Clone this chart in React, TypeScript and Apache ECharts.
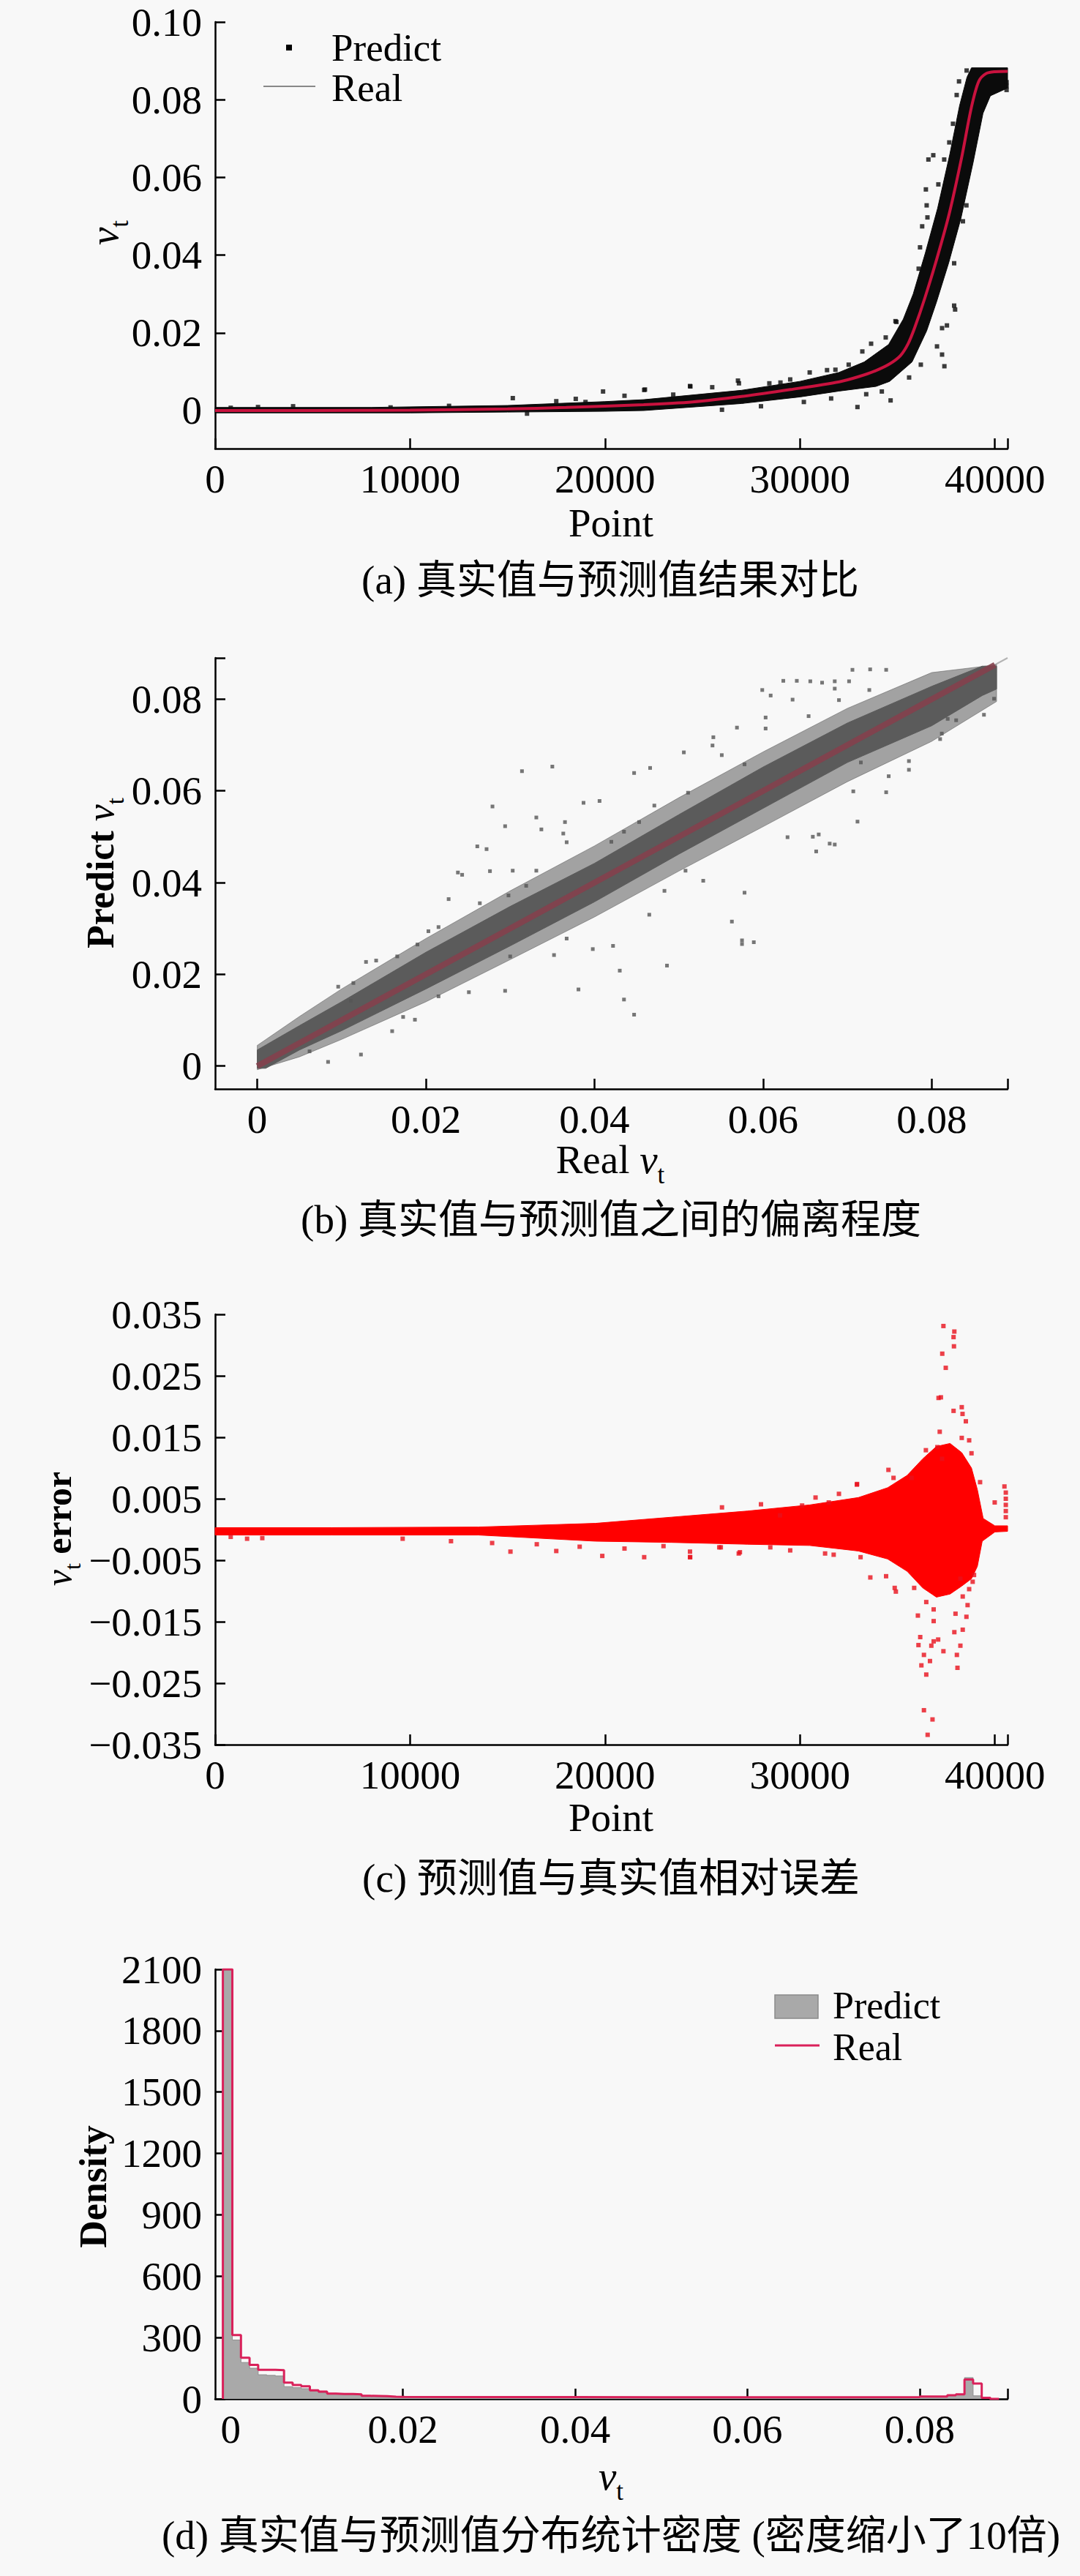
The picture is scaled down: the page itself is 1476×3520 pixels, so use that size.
import React, { useEffect, useRef } from "react";
import * as echarts from "echarts";

const FONT = '"Liberation Serif", "Times New Roman", "Noto Sans CJK SC", serif';
const W = 1476;
const H = 3520;

// ---------------- (a) real vs predicted ----------------
const pointLabels = [0, 10000, 20000, 30000, 40000];
const pointTicks = [0, 10000, 20000, 30000, 40000, 40650];
const vtLabelsA = [0, 0.02, 0.04, 0.06, 0.08, 0.1];
const realCurveA = [
  [0, 0], [5000, 0], [10000, 0.0001], [15000, 0.0004], [18000, 0.0008], [21980, 0.0015],
  [24490, 0.0022], [27000, 0.0036], [29510, 0.0054], [32020, 0.0074], [33000, 0.0087],
  [33900, 0.0103], [34600, 0.012], [35150, 0.0141], [35550, 0.0172], [35900, 0.0215],
  [36410, 0.029], [37030, 0.0392], [37660, 0.0507], [38290, 0.065], [38790, 0.0779],
  [39170, 0.0847], [39540, 0.0867], [40000, 0.0872], [40650, 0.0873],
];
const bandUpperA = [
  [0, 0.0008], [8000, 0.0008], [15000, 0.0013], [20000, 0.0023], [22000, 0.0028],
  [27000, 0.0052], [30000, 0.0075], [32000, 0.0098], [33300, 0.0125], [34550, 0.017],
  [35300, 0.0235], [35810, 0.03], [36430, 0.0405], [37060, 0.052], [37690, 0.066],
  [38190, 0.0785], [38570, 0.0858], [38800, 0.0882], [40650, 0.0882],
];
const bandLowerA = [
  [0, -0.0006], [10000, -0.0006], [15000, -0.0004], [20000, -0.0002], [22000, 0],
  [27000, 0.0018], [30000, 0.0035], [32000, 0.005], [33900, 0.0062], [34600, 0.0075],
  [35750, 0.0125], [36500, 0.0205], [37010, 0.028], [37630, 0.038], [38260, 0.0495],
  [38890, 0.064], [39390, 0.0765], [39770, 0.081], [40650, 0.083],
];
const predictOutliersA = [
  [800, 0.0007], [2200, 0.0009], [15270, 0.0032], [19900, 0.0049], [22050, 0.0054],
  [24380, 0.0062], [26820, 0.0077], [22010, 0.0053], [24360, 0.0063], [26870, 0.007],
  [28430, 0.007], [29500, 0.008], [31390, 0.0104], [31820, 0.0105], [33650, 0.0172],
  [34400, 0.0188], [34900, 0.023], [34950, 0.0228], [34650, 0.0026], [32950, 0.0009],
  [36840, 0.0657], [36590, 0.0646], [37400, 0.0646], [36460, 0.0569], [37100, 0.0582],
  [36500, 0.0528], [36540, 0.0497], [36270, 0.0474], [36160, 0.042], [36090, 0.0365],
  [37910, 0.027], [37960, 0.026], [37540, 0.0219], [37290, 0.0212], [37030, 0.0165],
  [37290, 0.0144], [37410, 0.0114], [38160, 0.0847], [38550, 0.0875], [38040, 0.0812],
  [37850, 0.0738], [37660, 0.069], [38540, 0.0528], [38360, 0.0487], [37910, 0.0379],
  [40600, 0.0845], [40600, 0.0835], [40600, 0.0825], [4000, 0.0011], [9000, 0.0008],
  [12000, 0.0012], [17500, 0.0024], [18500, 0.003], [21000, 0.0038], [25500, 0.006],
  [30500, 0.0098], [33200, 0.0152], [35600, 0.0085], [36200, 0.0118], [28000, 0.0011],
  [30200, 0.0022], [31600, 0.0031], [33400, 0.0042], [34200, 0.0049], [26000, 0.0002],
  [16000, -0.0008], [19000, 0.0022], [23500, 0.0041], [29000, 0.0072], [32500, 0.0118],
];

// ---------------- (b) deviation ----------------
const vtLabelsB = [0, 0.02, 0.04, 0.06, 0.08];
const vtTicksB = [0, 0.02, 0.04, 0.06, 0.08, 0.089];
const refLineB = [[0, 0], [0.089, 0.089]];
const realDiagB = [[0, 0], [0.0875, 0.0875]];
const coreUpperB = [
  [0, 0.0035], [0.005, 0.0088], [0.01, 0.014], [0.02, 0.0248], [0.03, 0.0348], [0.04, 0.0442],
  [0.05, 0.0548], [0.06, 0.0652], [0.07, 0.0748], [0.08, 0.0828], [0.086, 0.0872], [0.0877, 0.0872],
];
const coreLowerB = [
  [0, -0.0005], [0.001, -0.0005], [0.005, 0.0035], [0.01, 0.0077], [0.02, 0.0168], [0.03, 0.0262],
  [0.04, 0.0358], [0.05, 0.0462], [0.06, 0.0562], [0.07, 0.0662], [0.08, 0.0742], [0.086, 0.0808],
  [0.0877, 0.0822],
];
const haloUpperB = [
  [0, 0.0045], [0.005, 0.0108], [0.01, 0.0168], [0.02, 0.0278], [0.03, 0.0382], [0.04, 0.048],
  [0.05, 0.0585], [0.06, 0.0685], [0.07, 0.078], [0.08, 0.0858], [0.0877, 0.0875],
];
const haloLowerB = [
  [0, -0.0008], [0.005, 0.002], [0.01, 0.0058], [0.02, 0.014], [0.03, 0.0232], [0.04, 0.0325],
  [0.05, 0.0425], [0.06, 0.0522], [0.07, 0.062], [0.08, 0.0708], [0.0877, 0.0795],
];
const predictOutliersB = [
  [0.0314, 0.0643], [0.035, 0.0653], [0.0447, 0.0639], [0.0466, 0.065], [0.0279, 0.0566],
  [0.0387, 0.0574], [0.0406, 0.0578], [0.0331, 0.0542], [0.0294, 0.0523], [0.0261, 0.0479],
  [0.0272, 0.0473], [0.0238, 0.0422], [0.0243, 0.0417], [0.0276, 0.0425], [0.0303, 0.0426],
  [0.0227, 0.0364], [0.0129, 0.0227], [0.0141, 0.023], [0.0096, 0.0173], [0.0114, 0.0181],
  [0.0084, 0.0009], [0.0123, 0.0025], [0.0187, 0.0101], [0.0294, 0.0164], [0.0381, 0.0167],
  [0.0435, 0.0145], [0.0447, 0.0112], [0.043, 0.0208], [0.0486, 0.0219], [0.0465, 0.033],
  [0.0575, 0.0274], [0.0575, 0.0266], [0.0589, 0.027], [0.0578, 0.0378], [0.0422, 0.0262],
  [0.0398, 0.0255], [0.0367, 0.0278], [0.0663, 0.0468], [0.0685, 0.0483], [0.0712, 0.0533],
  [0.0659, 0.05], [0.0707, 0.0599], [0.0746, 0.0597], [0.0773, 0.0646], [0.081, 0.0713],
  [0.0829, 0.0754], [0.0862, 0.0766], [0.0874, 0.0801], [0.0624, 0.084], [0.064, 0.084],
  [0.0656, 0.0839], [0.067, 0.0836], [0.0685, 0.0839], [0.0702, 0.0839], [0.0706, 0.0864],
  [0.0727, 0.0865], [0.0746, 0.0864], [0.0599, 0.082], [0.0609, 0.0808], [0.0635, 0.0799],
  [0.0603, 0.076], [0.0569, 0.0738], [0.0541, 0.0717], [0.0603, 0.0736], [0.0654, 0.0763],
  [0.069, 0.0798], [0.0506, 0.0684], [0.054, 0.0699], [0.0551, 0.0678], [0.0578, 0.0658],
  [0.0726, 0.082], [0.0685, 0.0823], [0.0812, 0.0725], [0.0819, 0.0757], [0.0773, 0.0665],
  [0.0749, 0.0632], [0.0679, 0.0485], [0.0511, 0.0596], [0.0471, 0.0568], [0.0453, 0.0532],
  [0.0435, 0.0511], [0.042, 0.0489], [0.0365, 0.0532], [0.0363, 0.0507], [0.0337, 0.0516],
  [0.0367, 0.0488], [0.0331, 0.0426], [0.0298, 0.0372], [0.0264, 0.0355], [0.0319, 0.0393],
  [0.0215, 0.0303], [0.0203, 0.0294], [0.019, 0.0265], [0.0166, 0.0239], [0.0111, 0.0142],
  [0.0563, 0.0315], [0.0529, 0.0404], [0.0483, 0.0382], [0.0508, 0.0426], [0.0629, 0.0499],
  [0.0666, 0.0505], [0.0716, 0.0662], [0.03, 0.0239], [0.0352, 0.0242], [0.0251, 0.0161],
  [0.0215, 0.0152], [0.0173, 0.0107], [0.016, 0.0076], [0.0062, 0.0032],
];

// ---------------- (c) relative error ----------------
const errLabelsC = [-0.035, -0.025, -0.015, -0.005, 0.005, 0.015, 0.025, 0.035];
const bandUpperC = [
  [0, 0.0003], [6000, 0.0003], [13500, 0.0004], [19500, 0.001], [23400, 0.002], [27300, 0.003],
  [30500, 0.004], [33000, 0.0052], [34500, 0.0068], [35500, 0.0088], [36300, 0.0115],
  [37000, 0.0135], [37700, 0.014], [38300, 0.0125], [38800, 0.01], [39100, 0.0065],
  [39400, 0.0018], [40000, 0.0006], [40650, 0.0006],
];
const bandLowerC = [
  [0, -0.0009], [6000, -0.0009], [13500, -0.0009], [19500, -0.0019], [23400, -0.0021],
  [27300, -0.0024], [30500, -0.0026], [33000, -0.0035], [34500, -0.0048], [35500, -0.0068],
  [36300, -0.0095], [37000, -0.011], [37700, -0.0105], [38300, -0.0092], [38800, -0.008],
  [39100, -0.006], [39350, -0.0019], [40000, -0.0004], [40650, -0.0003],
];
const errOutliersC = [
  [37360, 0.0331], [37920, 0.0322], [37880, 0.0313], [37900, 0.0298], [37300, 0.0286],
  [37480, 0.0263], [37110, 0.0214], [37230, 0.0215], [38300, 0.0199], [38340, 0.0188],
  [37880, 0.0193], [38510, 0.0176], [37170, 0.0159], [38300, 0.0149], [38680, 0.0145],
  [38800, 0.0124], [37050, 0.0134], [36460, 0.0129], [37290, 0.0115], [34540, 0.0097],
  [32920, 0.0073], [34800, 0.0084], [35730, 0.0084], [39240, 0.0077], [40490, 0.007],
  [39990, 0.0044], [31480, 0.0044], [30110, 0.0039], [28980, 0.0023], [32930, 0.0074],
  [36480, -0.0236], [36360, -0.0294], [36800, -0.0309], [36550, -0.0334], [36230, -0.0221],
  [36670, -0.0214], [36170, -0.0175], [36080, -0.0188], [36860, -0.0182], [36360, -0.0204],
  [36740, -0.0189], [37090, -0.0179], [37360, -0.0198], [38050, -0.0204], [38080, -0.0225],
  [38230, -0.0189], [37920, -0.0167], [38350, -0.0163], [38540, -0.0142], [38600, -0.0123],
  [38350, -0.0109], [37980, -0.0137], [36860, -0.0149], [36860, -0.013], [36050, -0.014],
  [36480, -0.0118], [35860, -0.0095], [34860, -0.0095], [34920, -0.0101], [33610, -0.0078],
  [34420, -0.0076], [33110, -0.0045], [31730, -0.0041], [31290, -0.0039], [28480, -0.0029],
  [26860, -0.0039], [24360, -0.0045], [24360, -0.0036], [25860, -0.0029], [38860, -0.0085],
  [38930, -0.0074], [38680, -0.0097], [38230, -0.008], [800, -0.0012], [1640, -0.0015],
  [2420, -0.0014], [9620, -0.0015], [12100, -0.0019], [14210, -0.0022], [15150, -0.0036],
  [17500, -0.0035], [19860, -0.0043], [22010, -0.0045], [24370, -0.0045], [25940, -0.0029],
  [26920, -0.0037], [40560, 0.006], [40560, 0.005], [40560, 0.004], [40560, 0.003],
  [40560, 0.002], [16500, -0.0024], [18700, -0.0028], [21000, -0.0031], [23000, -0.0027],
  [29500, -0.0034], [30800, 0.0052], [32000, 0.0058], [26000, 0.0036], [28000, 0.0041],
];

// ---------------- (d) density histogram ----------------
const vtLabelsD = [0, 0.02, 0.04, 0.06, 0.08];
const vtTicksD = [0, 0.02, 0.04, 0.06, 0.08, 0.0902];
const histEdges = [
  -0.0009, 0.0002, 0.0012, 0.0022, 0.0032, 0.0042, 0.0052, 0.0062, 0.0072, 0.0082, 0.0092,
  0.0102, 0.0112, 0.0122, 0.0132, 0.0142, 0.0152, 0.0162, 0.0172, 0.0182, 0.0192, 0.0202,
  0.03, 0.04, 0.05, 0.06, 0.07, 0.08, 0.0832, 0.0842, 0.0852, 0.0862, 0.0872, 0.0882, 0.0892,
];
const realDensity = [
  25, 2100, 312, 201, 166, 142, 142, 140, 80, 68, 62, 42, 36, 26, 24, 24, 22, 15, 14, 13, 11,
  10, 9, 9, 8, 8, 8, 9, 12, 18, 22, 95, 75, 5,
];
const predictDensity = [
  18, 2095, 288, 178, 150, 118, 115, 112, 60, 55, 50, 38, 30, 24, 22, 21, 19, 13, 12, 11, 10,
  8, 7, 7, 6, 6, 6, 7, 10, 15, 20, 104, 15, 3,
];

// ---------------- helpers ----------------
const fmtPoint = (v: number) => String(Math.round(v));
const fmt2 = (v: number) => (Math.abs(v) < 1e-9 ? "0" : v.toFixed(2));
const fmtErr = (v: number) => (v < 0 ? "\u2212" : "") + Math.abs(v).toFixed(3);

function axis(o: {
  grid: number; min: number; max: number; isX: boolean; fmt: (v: number) => string;
  labels?: number[]; ticks?: number[]; interval?: number;
}) {
  const ax: any = {
    type: "value",
    gridIndex: o.grid,
    min: o.min,
    max: o.max,
    axisLine: { show: true, onZero: false, lineStyle: { color: "#000", width: 2.5 } },
    axisTick: { show: true, inside: true, length: 14, lineStyle: { color: "#000", width: 2.5 } },
    axisLabel: {
      show: true, color: "#000", fontFamily: FONT, fontSize: 55,
      margin: o.isX ? 14 : 18, formatter: o.fmt,
    },
    splitLine: { show: false },
  };
  if (o.interval != null) ax.interval = o.interval;
  if (o.labels) ax.axisLabel.customValues = o.labels;
  if (o.ticks) ax.axisTick.customValues = o.ticks;
  return ax;
}

function polygonSeries(idx: number, upper: number[][], lower: number[][], color: string, z: number, opacity = 1) {
  const pts = [...upper, ...lower.slice().reverse()];
  return {
    type: "custom",
    xAxisIndex: idx,
    yAxisIndex: idx,
    coordinateSystem: "cartesian2d",
    silent: true,
    z,
    data: [pts[0]],
    renderItem: (_p: any, api: any) => ({
      type: "polygon",
      shape: { points: pts.map((p) => api.coord(p)) },
      style: { fill: color, stroke: color, lineWidth: 1, opacity },
    }),
  };
}

function stepData(vals: number[]) {
  const d: number[][] = [[histEdges[0], 0]];
  vals.forEach((v, i) => d.push([histEdges[i], v]));
  d.push([histEdges[histEdges.length - 1], 0]);
  return d;
}

function vtRich(size: number) {
  return {
    text: "{i|v}{s|t}",
    rich: {
      i: { fontFamily: FONT, fontStyle: "italic", fontSize: size, fill: "#000", verticalAlign: "bottom", padding: [0, 0, 11, 0] },
      s: { fontFamily: FONT, fontSize: Math.round(size * 0.64), fill: "#000", verticalAlign: "bottom" },
    },
  };
}

function txt(text: string, x: number, y: number, size: number, extra: any = {}, rotation = 0) {
  return {
    type: "text",
    x,
    y,
    rotation,
    silent: true,
    style: {
      text, fill: "#000", fontFamily: FONT, fontSize: size,
      align: "center", verticalAlign: "middle", ...extra,
    },
  };
}

export default function App() {
  const ref = useRef<HTMLDivElement>(null);

  useEffect(() => {
    if (!ref.current) return;
    const chart = echarts.init(ref.current, undefined, { renderer: "svg", width: W, height: H });

    const grids = [
      { left: 294, top: 30, width: 1083, height: 583 },
      { left: 294, top: 899, width: 1083, height: 589 },
      { left: 294, top: 1796, width: 1083, height: 588 },
      { left: 294, top: 2691, width: 1083, height: 587 },
    ];

    const xAxes = [
      axis({ grid: 0, min: 0, max: 40650, isX: true, fmt: fmtPoint, labels: pointLabels, ticks: pointTicks }),
      axis({ grid: 1, min: -0.005, max: 0.089, isX: true, fmt: fmt2, labels: vtLabelsB, ticks: vtTicksB }),
      axis({ grid: 2, min: 0, max: 40650, isX: true, fmt: fmtPoint, labels: pointLabels, ticks: pointTicks }),
      axis({ grid: 3, min: -0.0018, max: 0.0902, isX: true, fmt: fmt2, labels: vtLabelsD, ticks: vtTicksD }),
    ];
    const yAxes = [
      axis({ grid: 0, min: -0.0098, max: 0.1, isX: false, fmt: fmt2, labels: vtLabelsA, ticks: vtLabelsA }),
      axis({ grid: 1, min: -0.005, max: 0.089, isX: false, fmt: fmt2, labels: vtLabelsB, ticks: vtTicksB }),
      axis({ grid: 2, min: -0.035, max: 0.035, isX: false, fmt: fmtErr, labels: errLabelsC, ticks: errLabelsC }),
      axis({ grid: 3, min: 0, max: 2100, interval: 300, isX: false, fmt: (v: number) => String(v) }),
    ];

    const series: any[] = [
      // (a)
      polygonSeries(0, bandUpperA, bandLowerA, "#0b0b0b", 1),
      {
        type: "scatter", name: "Predict", xAxisIndex: 0, yAxisIndex: 0, z: 2,
        symbol: "rect", symbolSize: 6, itemStyle: { color: "#0b0b0b" }, data: predictOutliersA,
      },
      {
        type: "line", name: "Real", xAxisIndex: 0, yAxisIndex: 0, z: 3, smooth: 0.3,
        showSymbol: false, lineStyle: { color: "#c8123e", width: 4 }, data: realCurveA,
      },
      // (b)
      {
        type: "line", xAxisIndex: 1, yAxisIndex: 1, z: 1, showSymbol: false,
        lineStyle: { color: "#b4b4b4", width: 2 }, data: refLineB,
      },
      polygonSeries(1, haloUpperB, haloLowerB, "#5b5b5b", 2, 0.55),
      polygonSeries(1, coreUpperB, coreLowerB, "#5b5b5b", 3),
      {
        type: "scatter", xAxisIndex: 1, yAxisIndex: 1, z: 4,
        symbol: "rect", symbolSize: 5, itemStyle: { color: "#555" }, data: predictOutliersB,
      },
      {
        type: "line", xAxisIndex: 1, yAxisIndex: 1, z: 5, showSymbol: false,
        lineStyle: { color: "#84404c", width: 8, opacity: 0.9 }, data: realDiagB,
      },
      // (c)
      polygonSeries(2, bandUpperC, bandLowerC, "#ff0000", 1),
      {
        type: "scatter", xAxisIndex: 2, yAxisIndex: 2, z: 2,
        symbol: "rect", symbolSize: 6, itemStyle: { color: "#e8101c" }, data: errOutliersC,
      },
      // (d)
      {
        type: "line", name: "Predict", xAxisIndex: 3, yAxisIndex: 3, z: 1, step: "start",
        showSymbol: false, lineStyle: { color: "#8e8e8e", width: 1 },
        areaStyle: { color: "#a9a9a9", opacity: 1 }, data: stepData(predictDensity),
      },
      {
        type: "line", name: "Real", xAxisIndex: 3, yAxisIndex: 3, z: 2, step: "start",
        showSymbol: false, lineStyle: { color: "#d9215a", width: 3 }, data: stepData(realDensity),
      },
    ];

    const graphic: any[] = [
      // legend (a)
      { type: "rect", silent: true, shape: { x: 391, y: 61, width: 8, height: 8 }, style: { fill: "#000" } },
      txt("Predict", 453, 65, 53, { align: "left" }),
      { type: "line", silent: true, shape: { x1: 360, y1: 118, x2: 431, y2: 118 }, style: { stroke: "#888", lineWidth: 2 } },
      txt("Real", 453, 120, 53, { align: "left" }),
      // axis names (a)
      { type: "text", x: 148, y: 318, rotation: Math.PI / 2, silent: true, style: { ...vtRich(55), align: "center", verticalAlign: "middle" } },
      txt("Point", 835, 714, 55),
      txt("(a) 真实值与预测值结果对比", 834, 792, 55),
      // (b)
      { type: "text", x: 143, y: 1193, rotation: Math.PI / 2, silent: true,
        style: {
          text: "{b|Predict }{i|v}{s|t}",
          rich: {
            b: { fontFamily: FONT, fontSize: 52, fontWeight: "bold", fill: "#000", verticalAlign: "bottom", padding: [0, 0, 11, 0] },
            i: { fontFamily: FONT, fontStyle: "italic", fontSize: 52, fill: "#000", verticalAlign: "bottom", padding: [0, 0, 11, 0] },
            s: { fontFamily: FONT, fontSize: 33, fill: "#000", verticalAlign: "bottom" },
          },
          align: "center", verticalAlign: "middle",
        } },
      { type: "text", x: 834, y: 1590, silent: true,
        style: {
          text: "{b|Real }{i|v}{s|t}",
          rich: {
            b: { fontFamily: FONT, fontSize: 55, fill: "#000", verticalAlign: "bottom", padding: [0, 0, 11, 0] },
            i: { fontFamily: FONT, fontStyle: "italic", fontSize: 55, fill: "#000", verticalAlign: "bottom", padding: [0, 0, 11, 0] },
            s: { fontFamily: FONT, fontSize: 35, fill: "#000", verticalAlign: "bottom" },
          },
          align: "center", verticalAlign: "middle",
        } },
      txt("(b) 真实值与预测值之间的偏离程度", 835, 1666, 55),
      // (c)
      { type: "text", x: 85, y: 2089, rotation: Math.PI / 2, silent: true,
        style: {
          text: "{i|v}{s|t}{b| error}",
          rich: {
            i: { fontFamily: FONT, fontStyle: "italic", fontSize: 50, fill: "#000", verticalAlign: "bottom", padding: [0, 0, 10, 0] },
            s: { fontFamily: FONT, fontSize: 32, fill: "#000", verticalAlign: "bottom" },
            b: { fontFamily: FONT, fontSize: 50, fontWeight: "bold", fill: "#000", verticalAlign: "bottom", padding: [0, 0, 10, 0] },
          },
          align: "center", verticalAlign: "middle",
        } },
      txt("Point", 835, 2483, 55),
      txt("(c) 预测值与真实值相对误差", 835, 2566, 55),
      // (d)
      { type: "rect", silent: true, shape: { x: 1059, y: 2726, width: 59, height: 32 }, style: { fill: "#a9a9a9", stroke: "#8a8a8a", lineWidth: 1.5 } },
      txt("Predict", 1138, 2740, 52, { align: "left" }),
      { type: "line", silent: true, shape: { x1: 1059, y1: 2795, x2: 1120, y2: 2795 }, style: { stroke: "#d9215a", lineWidth: 3 } },
      txt("Real", 1138, 2797, 52, { align: "left" }),
      txt("Density", 127, 2988, 52, { fontWeight: "bold" }, Math.PI / 2),
      { type: "text", x: 835, y: 3389, silent: true, style: { ...vtRich(55), align: "center", verticalAlign: "middle" } },
      txt("(d) 真实值与预测值分布统计密度 (密度缩小了10倍)", 835, 3464, 55),
    ];

    chart.setOption({
      animation: false,
      backgroundColor: "#f8f8f8",
      grid: grids,
      xAxis: xAxes,
      yAxis: yAxes,
      series,
      graphic,
    });

    return () => chart.dispose();
  }, []);

  return (
    <div
      ref={ref}
      style={{ position: "absolute", left: 0, top: 0, width: W, height: H, background: "#f8f8f8" }}
    />
  );
}
